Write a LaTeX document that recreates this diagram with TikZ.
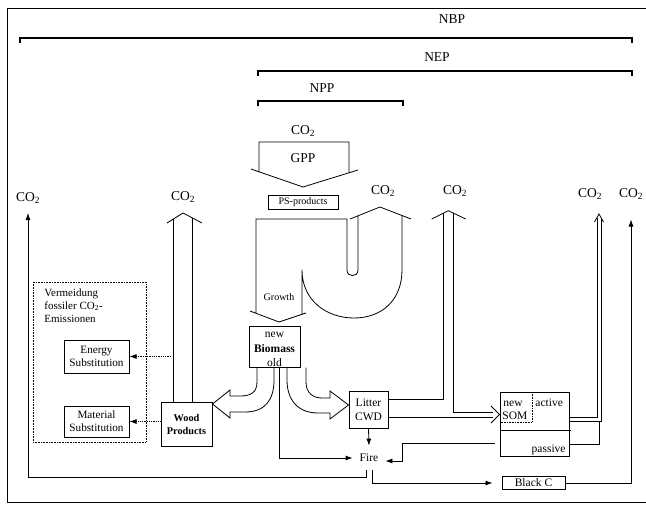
\documentclass[tikz,border=0pt]{standalone}
\usepackage{fontspec}
\setmainfont{Liberation Serif}
\usetikzlibrary{arrows.meta,calc}
\newcommand{\COtwo}{CO\textsubscript{2}}
\begin{document}
\begin{tikzpicture}[x=1pt,y=-1pt,line width=0.8pt,line join=miter,
  big/.style={font=\fontsize{13.5}{15}\selectfont,inner sep=0pt},
  co/.style={font=\fontsize{13.5}{15}\selectfont,inner sep=0pt,text depth=0pt,anchor=south},
  txt/.style={font=\fontsize{11.5}{13}\selectfont,inner sep=0pt},
  box/.style={draw,line width=1pt,inner sep=0pt,align=center},
  tip/.style={-{Latex[length=7pt,width=5pt]}},
  dtip/.style={densely dotted,-{Latex[length=7pt,width=5pt]}},
  brk/.style={line width=1.1pt}]
\useasboundingbox (0,0) rectangle (646,506);
% frame
\draw[line width=1pt] (646,8.5) -- (7,8.5) -- (7,502) -- (646,502);
% brackets
\node[big] (nbp) at (452,19) {NBP};
\draw[brk] (20,43) -- (20,38) -- (632,38) -- (632,43);
\node[big] (nep) at (437,57) {NEP};
\draw[brk] (258,76) -- (258,71) -- (632,71) -- (632,76);
\node[big] (npp) at (322,88) {NPP};
\draw[brk] (258,106) -- (258,101) -- (403,101) -- (403,106);
% GPP arrow
\node[co] (co2gpp) at (303,135) {\COtwo};
\draw (259,142) -- (349,142) -- (349,172.8) -- (358,170) -- (303,187) -- (251,169) -- (259,171.8) -- cycle;
\node[big] (gpp) at (303,158) {GPP};
\node[box,minimum width=70pt,minimum height=14pt,font=\fontsize{10}{11}\selectfont] (ps) at (303,202) {PS-products};
% growth / respiration U-shape
\draw (256,219) -- (347,219) -- (347,270) .. controls (347,277.5) and (358,277.5) .. (358,270)
  -- (358,215.8) -- (350,219) -- (380,207) -- (411,219) -- (402,215.5) -- (402,270)
  .. controls (402,300) and (382,318) .. (354,318) .. controls (326,318) and (302,300) .. (302,270)
  -- (302,314.3) -- (306,313) -- (279,322) -- (250,311) -- (256,313.3) -- cycle;
\node[co] (co2u) at (383,194.5) {\COtwo};
\node[txt,font=\fontsize{10}{11}\selectfont] (growth) at (279,297) {Growth};
% Biomass
\node[box,minimum width=51pt,minimum height=41pt] (bio) at (274.5,346.5) {};
\node[txt] (bnew) at (274.5,335) {new};
\node[txt] (bbio) at (274.5,348.5) {\textbf{Biomass}};
\node[txt] (bold) at (274.5,362.5) {old};
% Wood products
\node[box,minimum width=51pt,minimum height=44pt,font=\fontsize{10.3}{13}\selectfont\bfseries] (wood) at (186.5,424) {Wood\\Products};
% substitution
\draw[densely dotted,line width=0.6pt] (33,282) rectangle (146,442);
\node[txt,font=\fontsize{11}{13.2}\selectfont,align=left,anchor=north west] (verm) at (44,288) {Vermeidung\\fossiler \COtwo-\\Emissionen};
\node[box,minimum width=65pt,minimum height=33pt,font=\fontsize{11.2}{13}\selectfont] (ener) at (96.5,356.5) {Energy\\Substitution};
\node[box,minimum width=65pt,minimum height=31pt,font=\fontsize{11.2}{13}\selectfont] (mat) at (96.5,421.5) {Material\\Substitution};
\coordinate (edot) at (171,356.5);
\draw[dtip] (edot) -- (ener.east);
\draw[dtip] (wood.west |- mat.east) -- (mat.east);
% wood products CO2
\node[co] (co2w) at (183,200.5) {\COtwo};
\draw ($(wood.north)+(-13.5,0)$) -- (173,219.3);
\draw ($(wood.north)+(5.5,0)$) -- (192,217.7);
\draw (167,223) -- (183,213) -- (202,223);
% biomass -> wood products
\draw ($(bio.south)+(-17.5,0)$) -- (257,382) .. controls (257,393) and (250,396) .. (240,396)
  -- (230,396) -- (230,390) -- (wood.east |- 0,404) -- (230,418) -- (230,412) -- (245,412)
  .. controls (265,412) and (274,400) .. (274,380) -- ($(bio.south)+(-0.5,0)$);
% Litter
\node[box,minimum width=39pt,minimum height=37pt,font=\fontsize{11.5}{14}\selectfont] (lit) at (368.5,409.5) {Litter\\CWD};
% biomass -> litter
\draw ($(bio.south)+(31.5,0)$) -- (306,382) .. controls (306,393) and (313,398) .. (322,398)
  -- (330,398) -- (330,391) -- (lit.west |- 0,405) -- (330,419) -- (330,413) -- (318,413)
  .. controls (298,413) and (287,400) .. (287,380) -- ($(bio.south)+(12.5,0)$);
% Fire
\node[txt,minimum width=32pt,minimum height=24pt] (fire) at (369,458) {Fire};
\draw[tip] ($(bio.south)+(4.5,0)$) |- (fire.west);
\draw[tip] (lit.south) -- (fire.north);
% SOM
\node[box,minimum width=69pt,minimum height=64pt] (som) at (534.5,424) {};
\draw[densely dotted,line width=0.6pt] (532,392) -- (532,422) -- (500,422);
\draw (500,430) -- (571,430);
\node[txt,anchor=base west] (snew) at (503,406) {new};
\node[txt,anchor=base west] (ssom) at (502,419) {SOM};
\node[txt,anchor=base west] (sact) at (535,406) {active};
\node[txt,anchor=base east] (spas) at (566,452) {passive};
% litter -> CO2 and -> SOM
\node[co] (co2lit) at (455,194.5) {\COtwo};
\draw ($(lit.east)+(0,-10.5)$) -- (443,399) -- (443,213.4);
\draw (431.7,219) -- (448.3,210.7) -- (465.7,219);
\draw (453,212.9) -- (453,412) -- (493,412);
\draw ($(lit.east)+(0,7.5)$) -- (493,417);
\draw (491,406) -- (som.west |- 0,414.5) -- (491,423);
% SOM -> CO2
\node[co] (co2som) at (590,197.5) {\COtwo};
\draw ($(som.east)+(0,-7)$) -- (597,417) -- (597,218);
\draw ($(som.east)+(0,-3)$) -- (601,421) -- (601,218);
\draw (594.5,222) -- (599,214) -- (603.5,222);
\draw ($(som.east)+(0,20)$) -- (599,444) -- (599,421);
% SOM -> fire
\draw[tip] ($(som.west)+(-5,19)$) -- ++(-92,0) |- ($(fire.east)+(0,3)$);
% Black C
\node[box,minimum width=63pt,minimum height=13pt,font=\fontsize{11.5}{13}\selectfont] (blackc) at (533.5,483) {Black C};
\node[co] (co2l) at (28,201.5) {\COtwo};
\node[co] (co2r) at (631,197.5) {\COtwo};
\draw[tip,shorten >=11.5pt] ($(fire.south)+(-3,0)$) -- ++(0,7) -| (co2l.south);
\draw[tip,shorten >=9pt] ($(fire.south)+(3,0)$) |- (blackc.west);
\draw[tip,shorten >=22pt] (blackc.east) -| (co2r.south);
\end{tikzpicture}
\end{document}
